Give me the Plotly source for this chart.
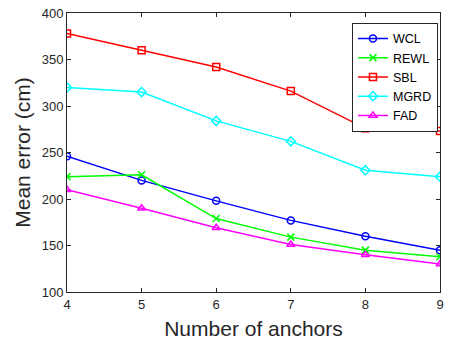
import plotly.graph_objects as go

anchors = [4, 5, 6, 7, 8, 9]
wcl = [246, 220, 198, 177, 160, 145]
rewl = [224, 226, 179, 159, 145, 138]
sbl = [378, 360, 342, 316, 276, 273]
mgrd = [320, 315, 284, 262, 231, 224]
fad = [210, 190, 169, 151, 140, 130]

series = [
    ("WCL", wcl, "#0000ff", "circle-open"),
    ("REWL", rewl, "#00ff00", "x-thin-open"),
    ("SBL", sbl, "#ff0000", "square-open"),
    ("MGRD", mgrd, "#00ffff", "diamond-open"),
    ("FAD", fad, "#ff00ff", "triangle-up-open"),
]

fig = go.Figure()
for name, vals, color, sym in series:
    fig.add_trace(go.Scatter(
        x=anchors, y=vals, name=name, mode="lines+markers",
        line=dict(color=color, width=1.5),
        marker=dict(symbol=sym, size=7, color=color, line=dict(color=color, width=1.5)),
    ))

axis_common = dict(
    showgrid=False, zeroline=False, showline=True, mirror="allticks",
    linecolor="#262626", linewidth=1, ticks="inside", ticklen=4,
    tickcolor="#262626", tickfont=dict(family="Liberation Sans, Arial", size=13, color="#262626"),
)

fig.update_layout(
    width=450, height=352,
    margin=dict(l=67, r=6, t=10, b=60),
    paper_bgcolor="white", plot_bgcolor="white",
    font=dict(family="Liberation Sans, Arial", color="#262626"),
    xaxis=dict(range=[4, 9], dtick=1,
               title=dict(text="Number of anchors", font=dict(size=21), standoff=10),
               **axis_common),
    yaxis=dict(range=[100, 400], dtick=50,
               title=dict(text="Mean error (cm)", font=dict(size=21), standoff=5),
               **axis_common),
    legend=dict(x=0.764, y=0.965, xanchor="left", yanchor="top",
                bgcolor="white", bordercolor="#262626", borderwidth=1,
                font=dict(size=12.5, color="black"), itemwidth=30,
                tracegroupgap=0),
)

fig.write_html("out.html")
